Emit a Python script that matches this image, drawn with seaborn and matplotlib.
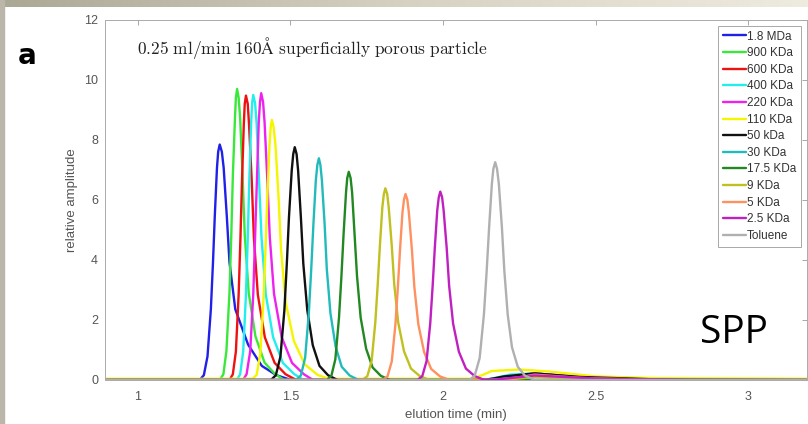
import numpy as np
import matplotlib
matplotlib.use("Agg")
import matplotlib.pyplot as plt
from matplotlib.patches import Rectangle
from matplotlib.colors import LinearSegmentedColormap
import seaborn as sns

# elution traces: time (min) / relative amplitude
t_1_8mda = [0.89, 1.202, 1.216, 1.228, 1.239, 1.246, 1.252, 1.259, 1.263, 1.268, 1.275, 1.281, 1.291, 1.300, 1.319, 1.361, 1.406, 1.454, 1.502, 2.12, 2.22, 2.32, 2.45, 2.70, 3.20]
a_1_8mda = [0, 0, 0.16, 0.79, 2.36, 3.93, 5.50, 7.07, 7.61, 7.85, 7.61, 7.07, 5.50, 3.93, 2.36, 1.18, 0.47, 0.16, 0, 0, 0.10, 0.20, 0.08, 0.02, 0]

t_900 = [0.89, 1.268, 1.280, 1.290, 1.300, 1.306, 1.311, 1.318, 1.321, 1.325, 1.330, 1.335, 1.343, 1.350, 1.363, 1.385, 1.415, 1.450, 1.480, 3.20]
a_900 = [0, 0, 0.19, 0.97, 2.91, 4.85, 6.79, 8.73, 9.41, 9.70, 9.41, 8.73, 6.79, 4.85, 2.91, 1.46, 0.58, 0.19, 0, 0]

t_600 = [0.89, 1.300, 1.311, 1.321, 1.330, 1.336, 1.341, 1.347, 1.350, 1.354, 1.360, 1.364, 1.373, 1.380, 1.393, 1.416, 1.448, 1.484, 1.519, 2.15, 2.30, 2.45, 2.70, 3.20]
a_600 = [0, 0, 0.19, 0.95, 2.84, 4.74, 6.64, 8.53, 9.20, 9.48, 9.20, 8.53, 6.64, 4.74, 2.84, 1.42, 0.57, 0.19, 0, 0, 0.15, 0.06, 0, 0]

t_400 = [0.89, 1.324, 1.335, 1.345, 1.354, 1.360, 1.365, 1.371, 1.374, 1.378, 1.384, 1.389, 1.397, 1.405, 1.419, 1.443, 1.475, 1.513, 1.543, 2.14, 2.22, 2.30, 2.45, 2.70, 3.20]
a_400 = [0, 0, 0.19, 0.95, 2.85, 4.75, 6.65, 8.55, 9.22, 9.50, 9.22, 8.55, 6.65, 4.75, 2.85, 1.43, 0.57, 0.19, 0, 0, 0.18, 0.22, 0.08, 0, 0]

t_220 = [0.89, 1.344, 1.356, 1.368, 1.378, 1.384, 1.390, 1.396, 1.400, 1.404, 1.410, 1.415, 1.424, 1.432, 1.446, 1.471, 1.505, 1.544, 1.574, 2.14, 2.30, 2.45, 2.80, 3.20]
a_220 = [0, 0, 0.19, 0.96, 2.87, 4.78, 6.69, 8.60, 9.27, 9.56, 9.27, 8.60, 6.69, 4.78, 2.87, 1.43, 0.57, 0.19, 0, 0, 0.22, 0.10, 0.02, 0]

t_110 = [0.89, 1.376, 1.389, 1.401, 1.411, 1.418, 1.424, 1.431, 1.435, 1.439, 1.445, 1.451, 1.461, 1.469, 1.484, 1.511, 1.547, 1.589, 1.625, 2.10, 2.16, 2.25, 2.35, 2.50, 2.70, 3.20]
a_110 = [0.04, 0.04, 0.17, 0.87, 2.60, 4.34, 6.07, 7.80, 8.41, 8.67, 8.41, 7.80, 6.07, 4.34, 2.60, 1.30, 0.52, 0.17, 0.04, 0.04, 0.30, 0.35, 0.28, 0.12, 0.06, 0.04]

t_50 = [0.89, 1.436, 1.452, 1.467, 1.480, 1.488, 1.495, 1.504, 1.509, 1.514, 1.520, 1.525, 1.534, 1.542, 1.555, 1.573, 1.595, 1.623, 1.654, 2.14, 2.20, 2.30, 2.45, 2.70, 3.20]
a_50 = [0, 0, 0.16, 0.78, 2.33, 3.88, 5.43, 6.98, 7.53, 7.76, 7.53, 6.98, 5.43, 3.88, 2.33, 1.16, 0.47, 0.16, 0, 0, 0.12, 0.22, 0.10, 0.02, 0]

t_30 = [0.89, 1.518, 1.534, 1.548, 1.560, 1.568, 1.575, 1.583, 1.588, 1.593, 1.598, 1.603, 1.612, 1.619, 1.631, 1.648, 1.668, 1.694, 1.723, 2.15, 2.30, 2.50, 3.20]
a_30 = [0, 0, 0.15, 0.74, 2.22, 3.70, 5.17, 6.65, 7.17, 7.39, 7.17, 6.65, 5.17, 3.70, 2.22, 1.11, 0.44, 0.15, 0, 0, 0.12, 0, 0]

t_17_5 = [0.89, 1.619, 1.634, 1.647, 1.659, 1.667, 1.674, 1.682, 1.686, 1.691, 1.697, 1.702, 1.710, 1.718, 1.730, 1.748, 1.769, 1.796, 1.826, 3.20]
a_17_5 = [0, 0, 0.14, 0.69, 2.08, 3.47, 4.86, 6.25, 6.73, 6.94, 6.73, 6.25, 4.86, 3.47, 2.08, 1.04, 0.42, 0.14, 0, 0]

t_9 = [0.89, 1.736, 1.752, 1.766, 1.778, 1.786, 1.793, 1.801, 1.806, 1.811, 1.817, 1.822, 1.832, 1.840, 1.853, 1.872, 1.895, 1.924, 1.956, 2.20, 2.30, 2.50, 3.20]
a_9 = [0, 0, 0.13, 0.64, 1.92, 3.20, 4.47, 5.75, 6.20, 6.39, 6.20, 5.75, 4.47, 3.20, 1.92, 0.96, 0.38, 0.13, 0, 0, 0.10, 0, 0]

t_5 = [0.89, 1.802, 1.818, 1.832, 1.844, 1.852, 1.859, 1.867, 1.872, 1.877, 1.883, 1.888, 1.898, 1.906, 1.919, 1.938, 1.961, 1.990, 2.022, 2.20, 2.30, 2.45, 2.70, 3.20]
a_5 = [0, 0, 0.12, 0.62, 1.86, 3.10, 4.34, 5.58, 6.01, 6.20, 6.01, 5.58, 4.34, 3.10, 1.86, 0.93, 0.37, 0.12, 0, 0, 0.18, 0.07, 0, 0]

t_2_5 = [0.89, 1.916, 1.932, 1.946, 1.958, 1.966, 1.973, 1.981, 1.986, 1.991, 1.997, 2.002, 2.012, 2.020, 2.033, 2.052, 2.075, 2.104, 2.136, 2.16, 2.30, 2.50, 2.80, 3.20]
a_2_5 = [0, 0, 0.13, 0.63, 1.88, 3.14, 4.40, 5.65, 6.09, 6.28, 6.09, 5.65, 4.40, 3.14, 1.88, 0.94, 0.38, 0.13, 0, 0, 0.15, 0.05, 0, 0]

t_toluene = [0.89, 2.087, 2.104, 2.120, 2.134, 2.143, 2.151, 2.160, 2.165, 2.171, 2.177, 2.183, 2.193, 2.201, 2.212, 2.226, 2.245, 2.268, 2.300, 3.20]
a_toluene = [0, 0, 0.15, 0.73, 2.18, 3.63, 5.08, 6.53, 7.04, 7.26, 7.04, 6.53, 5.08, 3.63, 2.18, 1.09, 0.44, 0.15, 0, 0]

labels = ["1.8 MDa", "900 KDa", "600 KDa", "400 KDa", "220 KDa", "110 KDa", "50 kDa",
          "30 KDa", "17.5 KDa", "9 KDa", "5 KDa", "2.5 KDa", "Toluene"]
colors = ["#2020e8", "#3ae83a", "#ee1111", "#22eeee", "#ee22ee", "#f5f500", "#111111",
          "#22bbbb", "#228822", "#c0c020", "#ff9060", "#c020c0", "#b0b0b0"]
times = [t_1_8mda, t_900, t_600, t_400, t_220, t_110, t_50, t_30, t_17_5, t_9, t_5, t_2_5, t_toluene]
amps = [a_1_8mda, a_900, a_600, a_400, a_220, a_110, a_50, a_30, a_17_5, a_9, a_5, a_2_5, a_toluene]

x_ticks = [1, 1.5, 2, 2.5, 3]
x_ticklabels = ["1", "1.5", "2", "2.5", "3"]
y_ticks = [0, 2, 4, 6, 8, 10, 12]

sns.set_theme(style="white")
plt.rcParams['font.family'] = ['Liberation Sans', 'DejaVu Sans']
plt.rcParams['mathtext.fontset'] = 'cm'

fig = plt.figure(figsize=(8.08, 4.24), dpi=100)
fig.patch.set_facecolor("white")

# slide frame: gray strip on the left, gradient band on top
fig.patches.append(Rectangle((0, 0), 4 / 808, 1, transform=fig.transFigure,
                             color="#bab6aa", zorder=0))
band = fig.add_axes([0, 1 - 7 / 424, 1, 7 / 424])
cmap = LinearSegmentedColormap.from_list("band", ["#aba795", "#d6d2c2", "#eeebdf"])
band.imshow(np.linspace(0, 1, 256)[None, :], aspect="auto", cmap=cmap)
band.axis("off")

ax = fig.add_axes([105 / 808, 44 / 424, 702 / 808, 360 / 424])
for t, a, lab, c in zip(times, amps, labels, colors):
    sns.lineplot(x=t, y=a, color=c, label=lab, linewidth=1.7, ax=ax,
                 estimator=None, sort=False)

ax.set_xlim(0.892, 3.193)
ax.set_ylim(0, 12)
ax.set_xticks(x_ticks)
ax.set_xticklabels(x_ticklabels)
ax.set_yticks(y_ticks)
ax.tick_params(direction="in", length=3.5, width=0.6, color="#999999",
               top=True, right=True, labelsize=9, labelcolor="#555555")
ax.tick_params(axis="x", pad=8)
ax.tick_params(axis="y", pad=5)
for s in ax.spines.values():
    s.set_color("#aaaaaa")
    s.set_linewidth(0.7)

ax.set_xlabel("elution time (min)", fontsize=9.5, color="#555555", labelpad=4)
ax.set_ylabel("relative amplitude", fontsize=9.5, color="#555555", labelpad=4)

ax.text(0.046, 0.922, r"$\mathrm{0.25\ ml/min\ 160Å\ superficially\ porous\ particle}$",
        transform=ax.transAxes, fontsize=12.5, color="#222222", va="center", ha="left")

leg = ax.legend(loc="upper right", fontsize=8.5, frameon=True, fancybox=False,
                edgecolor="#a8a8a8", framealpha=1, labelspacing=0.39,
                handlelength=1.95, handletextpad=0.1, borderpad=0.4,
                borderaxespad=0.5, labelcolor="#333333")
leg.get_frame().set_linewidth(0.7)

fig.text(27 / 808, 1 - 56 / 424, "a", fontsize=20, fontweight="bold",
         family="DejaVu Sans", ha="center", va="center", color="black")
fig.text(700 / 808, (424 - 343) / 424, "SPP", fontsize=28, family="Open Sans",
         ha="left", va="baseline", color="black")

fig.savefig("out.png", dpi=100)
